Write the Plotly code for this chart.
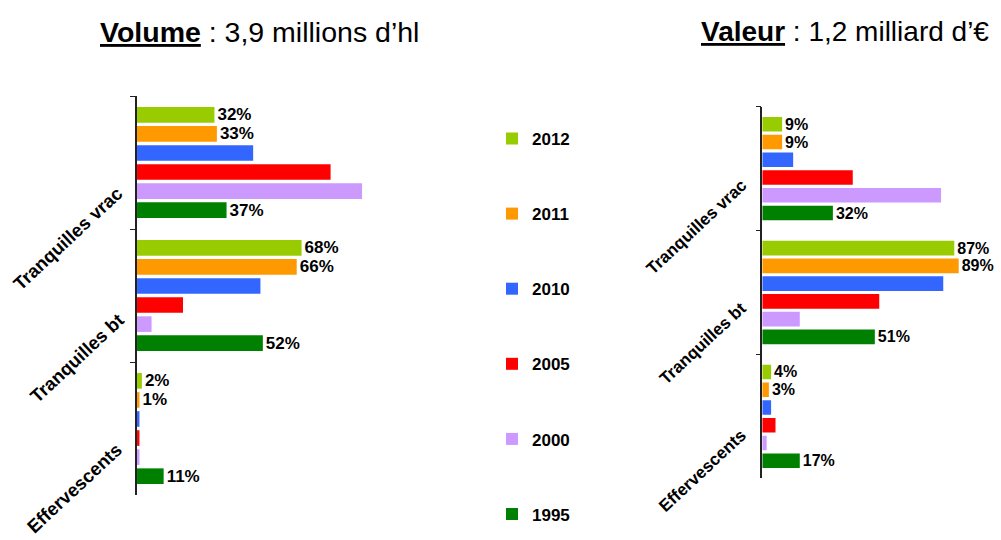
import plotly.graph_objects as go

categories = ['Tranquilles vrac', 'Tranquilles bt', 'Effervescents']
years = ['2012', '2011', '2010', '2005', '2000', '1995']
colors = ['#99CC00', '#FF9900', '#3366FF', '#FF0000', '#CC99FF', '#008000']
labelled_years = ['2012', '2011', '1995']

# volume shares (%) per year, in category order
volume_2012 = [32, 68, 2]
volume_2011 = [33, 66, 1]
volume_2010 = [48, 51, 1]
volume_2005 = [80, 19, 1]
volume_2000 = [93, 6, 1]
volume_1995 = [37, 52, 11]

# value shares (%) per year
valeur_2012 = [9, 87, 4]
valeur_2011 = [9, 89, 3]
valeur_2010 = [14, 82, 4]
valeur_2005 = [41, 53, 6]
valeur_2000 = [81, 17, 2]
valeur_1995 = [32, 51, 17]

volume = [volume_2012, volume_2011, volume_2010, volume_2005, volume_2000, volume_1995]
valeur = [valeur_2012, valeur_2011, valeur_2010, valeur_2005, valeur_2000, valeur_1995]

FONT = 'Liberation Sans, Arial, sans-serif'

fig = go.Figure()

for i, year in enumerate(years):
	for side, data in enumerate([volume, valeur]):
		vals = data[i]
		text = [f'{v}%' for v in vals] if year in labelled_years else ['' for v in vals]
		fig.add_trace(go.Bar(
			y=categories,
			x=vals,
			orientation='h',
			name=year,
			legendgroup=year,
			showlegend=(side == 0),
			marker=dict(color=colors[i], line=dict(width=0)),
			text=text,
			textposition='outside',
			constraintext='none',
			cliponaxis=False,
			textfont=dict(family=FONT, size=17 if side == 0 else 16, color='black', weight='bold'),
			xaxis='x' if side == 0 else 'x2',
			yaxis='y' if side == 0 else 'y2'
		))

yaxis_common = dict(
	type='category',
	categoryorder='array',
	categoryarray=categories,
	range=[len(categories) - 0.5, -0.5],
	automargin=False,
	showline=True,
	linecolor='#222222',
	linewidth=1.5,
	ticks='outside',
	ticklen=5,
	tickcolor='#222222',
	tickson='boundaries',
	showticklabels=False,
	showgrid=False,
	zeroline=False
)

# category labels, rotated and dropped below the category centre like the original
label_annotations = []
left_x = [67.5, 76.5, 74]
left_shift = [-75.5, -63, -60]
right_x = [696, 703, 703]
right_shift = [-58.7, -51.5, -54.5]
for k, cat in enumerate(categories):
	label_annotations.append(dict(
		text=cat, x=left_x[k] / 1001, y=cat, xref='paper', yref='y', yshift=left_shift[k],
		xanchor='center', yanchor='middle', textangle=-43, showarrow=False,
		font=dict(family=FONT, size=18.5, color='black', weight='bold')))
	label_annotations.append(dict(
		text=cat, x=right_x[k] / 1001, y=cat, xref='paper', yref='y2', yshift=right_shift[k],
		xanchor='center', yanchor='middle', textangle=-43, showarrow=False,
		font=dict(family=FONT, size=17, color='black', weight='bold')))

fig.update_layout(
	width=1001,
	height=540,
	margin=dict(l=0, r=0, t=0, b=0, autoexpand=False),
	paper_bgcolor='white',
	plot_bgcolor='white',
	barmode='group',
	bargap=0.14,
	bargroupgap=0.18,
	font=dict(family=FONT, color='black'),
	xaxis=dict(domain=[0.1369, 0.3786], range=[0, 100], visible=False, automargin=False),
	yaxis=dict(domain=[0.0833, 0.8222], anchor='x', **yaxis_common),
	xaxis2=dict(domain=[0.7615, 0.982], range=[0, 100], visible=False, anchor='y2', automargin=False),
	yaxis2=dict(domain=[0.1143, 0.8024], anchor='x2', **yaxis_common),
	legend=dict(
		x=0.4915, y=0.776, xanchor='left', yanchor='top',
		font=dict(family=FONT, size=17, color='black', weight='bold'),
		tracegroupgap=50,
		itemwidth=30,
		bgcolor='rgba(0,0,0,0)'
	),
	annotations=[
		dict(text='<b><u>Volume</u></b> : 3,9 millions d’hl', x=98 / 1001, y=1 - 32 / 540,
			xref='paper', yref='paper', xanchor='left', yanchor='middle', showarrow=False,
			font=dict(family=FONT, size=28.5, color='black')),
		dict(text='<b><u>Valeur</u></b> : 1,2 milliard d’€', x=699 / 1001, y=1 - 32 / 540,
			xref='paper', yref='paper', xanchor='left', yanchor='middle', showarrow=False,
			font=dict(family=FONT, size=28, color='black'))
	] + label_annotations
)

# the page body has a default 8px margin; drop it so the figure sits at the window corner
fig.write_html('out.html', config={'displayModeBar': False},
	post_script="document.body.style.margin='0';")
